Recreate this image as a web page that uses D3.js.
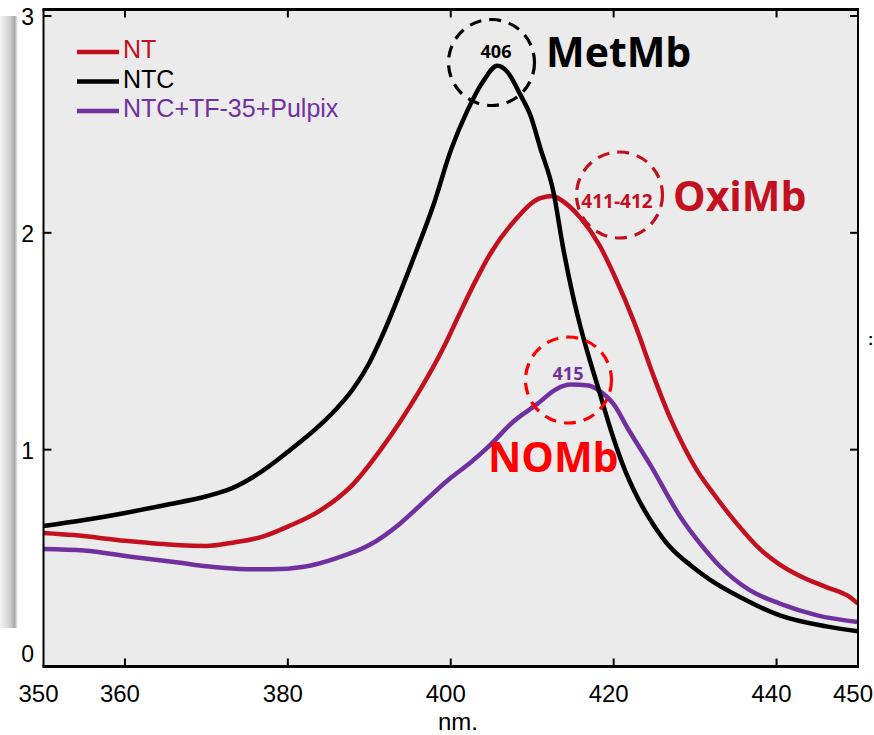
<!DOCTYPE html>
<html>
<head>
<meta charset="utf-8">
<script src="https://cdn.jsdelivr.net/npm/d3@7"></script>
<style>
  body { margin: 0; background: #fff; }
</style>
</head>
<body>
<script>
// spectra (nm -> absorbance)
const ntcNm  = [350,355,360,365,370,373,376,380,384,386,388,390,391.4,395.4,397.8,400.1,402,404,405.7,407,408.5,409.8,411,412.6,413.8,415,415.9,418.3,420,421.2,422.85,424.9,426.9,429.4,431.9,435.5,440.4,446.1,450]
const ntcVal = [0.648,0.676,0.708,0.745,0.785,0.82,0.88,0.99,1.115,1.19,1.28,1.40,1.51,1.88,2.12,2.39,2.56,2.70,2.77,2.74,2.64,2.54,2.39,2.19,1.93,1.71,1.57,1.26,1.05,0.923,0.785,0.653,0.552,0.468,0.398,0.32,0.236,0.185,0.162]

const ntNm  = [350,353.7,360,366.4,370,373,377,380,384,388,391.4,393.8,396.3,399.1,401,402.8,404.8,407.7,411,412.6,413.4,415.9,418.3,420,422.6,424.8,426.9,428.2,430.2,432.2,435.1,438,440.4,443,446.1,449,450]
const ntVal = [0.616,0.606,0.58,0.56,0.556,0.57,0.60,0.645,0.72,0.84,1.00,1.13,1.28,1.47,1.62,1.76,1.90,2.05,2.16,2.17,2.155,2.07,1.94,1.81,1.58,1.35,1.15,1.046,0.907,0.80,0.66,0.54,0.47,0.415,0.366,0.32,0.29]

const mixNm  = [350,355,360.7,366.8,370,374,378,382,386,390,393.8,396.3,400,402.4,404.8,407.7,410.6,413,414.7,416.9,418.3,420,421.7,424.5,428.2,430.6,433.1,436.7,440.4,445,450]
const mixVal = [0.542,0.535,0.506,0.478,0.462,0.45,0.448,0.46,0.50,0.56,0.66,0.745,0.87,0.94,1.02,1.13,1.21,1.28,1.30,1.296,1.27,1.21,1.10,0.93,0.69,0.568,0.46,0.352,0.29,0.236,0.205]

const seriesNames = ["NT", "NTC", "NTC+TF-35+Pulpix"]
const seriesColors = ["#c3101f", "#000000", "#7030a0"]

const xTicks = [360, 380, 400, 420, 440]
const xLabels = [350, 360, 380, 400, 420, 440, 450]
const yTicks = [1, 2, 3]
const yLabels = [0, 1, 2, 3]

let w = 874
let h = 735
let pLeft = 43.5, pRight = 858, pTop = 9.5, pBottom = 666.5

let x = d3.scaleLinear().domain([350, 450]).range([pLeft, pRight])
let y = d3.scaleLinear().domain([0, 3]).range([666.5, 16])

let svg = d3.select('body').append('svg')
    .attr('width', w)
    .attr('height', h)

// the grey shadow strip at the far left
let defs = svg.append('defs')
let grad = defs.append('linearGradient').attr('id', 'shade')
grad.append('stop').attr('offset', '0').attr('stop-color', '#f6f6f6')
grad.append('stop').attr('offset', '0.55').attr('stop-color', '#cfcfcf')
grad.append('stop').attr('offset', '0.82').attr('stop-color', '#a9a9a9')
grad.append('stop').attr('offset', '1').attr('stop-color', '#ffffff')
svg.append('rect').attr('x', 0).attr('y', 16).attr('width', 18).attr('height', 612)
    .attr('fill', 'url(#shade)')

svg.append('rect')
    .attr('x', pLeft).attr('y', pTop)
    .attr('width', pRight - pLeft).attr('height', pBottom - pTop)
    .attr('fill', '#ebebeb')

defs.append('clipPath').attr('id', 'plot')
    .append('rect').attr('x', pLeft).attr('y', pTop).attr('width', pRight - pLeft).attr('height', pBottom - pTop)

let line = d3.line()
    .x(d => x(d[0]))
    .y(d => y(d[1]))
    .curve(d3.curveMonotoneX)

let data = [
    d3.zip(ntNm, ntVal),
    d3.zip(ntcNm, ntcVal),
    d3.zip(mixNm, mixVal)
]

let g = svg.append('g').attr('clip-path', 'url(#plot)')
// draw order: NT, purple, black on top
;[0, 2, 1].forEach(i => {
    g.append('path')
        .attr('d', line(data[i]))
        .attr('fill', 'none')
        .attr('stroke', seriesColors[i])
        .attr('stroke-width', 4.5)
        .attr('stroke-linejoin', 'round')
})

// frame
svg.append('line').attr('x1', pLeft - 1).attr('x2', pRight + 1).attr('y1', pBottom).attr('y2', pBottom)
    .attr('stroke', '#000').attr('stroke-width', 3)
svg.append('line').attr('x1', pLeft - 1).attr('x2', pRight + 1).attr('y1', pTop).attr('y2', pTop)
    .attr('stroke', '#000').attr('stroke-width', 3)
svg.append('line').attr('x1', pLeft).attr('x2', pLeft).attr('y1', pTop).attr('y2', pBottom)
    .attr('stroke', '#000').attr('stroke-width', 2)
svg.append('line').attr('x1', pRight).attr('x2', pRight).attr('y1', pTop).attr('y2', pBottom)
    .attr('stroke', '#000').attr('stroke-width', 2)

// inward ticks
xTicks.forEach(t => {
    svg.append('line').attr('x1', x(t)).attr('x2', x(t)).attr('y1', pBottom).attr('y2', pBottom - 8)
        .attr('stroke', '#000').attr('stroke-width', 2)
    svg.append('line').attr('x1', x(t)).attr('x2', x(t)).attr('y1', pTop).attr('y2', pTop + 8)
        .attr('stroke', '#000').attr('stroke-width', 2)
})
yTicks.forEach(t => {
    svg.append('line').attr('x1', pLeft).attr('x2', pLeft + 8).attr('y1', y(t)).attr('y2', y(t))
        .attr('stroke', '#000').attr('stroke-width', 2)
    svg.append('line').attr('x1', pRight).attr('x2', pRight - 8).attr('y1', y(t)).attr('y2', y(t))
        .attr('stroke', '#000').attr('stroke-width', 2)
})

svg.selectAll('.xl').data(xLabels).enter().append('text')
    .attr('x', d => x(d) - 5).attr('y', 702)
    .attr('text-anchor', 'middle')
    .attr('font-family', 'Liberation Sans, Arial, sans-serif')
    .attr('font-size', 24)
    .text(d => d)

svg.selectAll('.yl').data(yLabels).enter().append('text')
    .attr('x', 34).attr('y', d => d === 0 ? 662 : y(d) + 9)
    .attr('text-anchor', 'end')
    .attr('font-family', 'Liberation Sans, Arial, sans-serif')
    .attr('font-size', 23)
    .text(d => d)

svg.append('text').attr('x', 458).attr('y', 730)
    .attr('text-anchor', 'middle')
    .attr('font-family', 'Liberation Sans, Arial, sans-serif')
    .attr('font-size', 24)
    .text('nm.')

svg.append('text').attr('x', 868).attr('y', 345)
    .attr('font-family', 'Liberation Sans, Arial, sans-serif')
    .attr('font-size', 16).attr('font-weight', 'bold')
    .text(':')

// legend
seriesNames.forEach((n, i) => {
    let ly = 52 + i * 29.5
    svg.append('line').attr('x1', 77).attr('x2', 119).attr('y1', ly).attr('y2', ly)
        .attr('stroke', seriesColors[i]).attr('stroke-width', 4.5)
    svg.append('text').attr('x', 123).attr('y', ly + 6)
        .attr('font-family', 'Liberation Sans, Arial, sans-serif')
        .attr('font-size', 25)
        .attr('fill', seriesColors[i])
        .text(n)
})

// dashed circles and labels round the peaks
let circles = [
    {cx: 491.5, cy: 62.5, stroke: '#000', num: '406', numColor: '#000', nx: 496, ny: 58,
     word: 'MetMb', wColor: '#000', wx: 546, wy: 67},
    {cx: 619.5, cy: 195, stroke: '#c3101f', num: '411-412', numColor: '#c3101f', nx: 617, ny: 208,
     word: 'OxiMb', wColor: '#c3101f', wx: 673, wy: 211},
    {cx: 568.5, cy: 380, stroke: '#ff0000', num: '415', numColor: '#7030a0', nx: 568, ny: 380,
     word: 'NOMb', wColor: '#ff0000', wx: 488, wy: 472}
]
circles.forEach(c => {
    svg.append('circle').attr('cx', c.cx).attr('cy', c.cy).attr('r', 43)
        .attr('fill', 'none').attr('stroke', c.stroke)
        .attr('stroke-width', 3.2).attr('stroke-dasharray', '12,8')
    svg.append('text').attr('x', c.nx).attr('y', c.ny)
        .attr('text-anchor', 'middle')
        .attr('font-family', 'Open Sans, sans-serif').attr('font-weight', 'bold')
        .attr('font-size', c.num.length > 3 ? 19 : 18)
        .attr('fill', c.numColor)
        .text(c.num)
    svg.append('text').attr('x', c.wx).attr('y', c.wy)
        .attr('font-family', 'Open Sans, sans-serif').attr('font-weight', 'bold')
        .attr('font-size', 41)
        .attr('fill', c.wColor)
        .text(c.word)
})
</script>
</body>
</html>
